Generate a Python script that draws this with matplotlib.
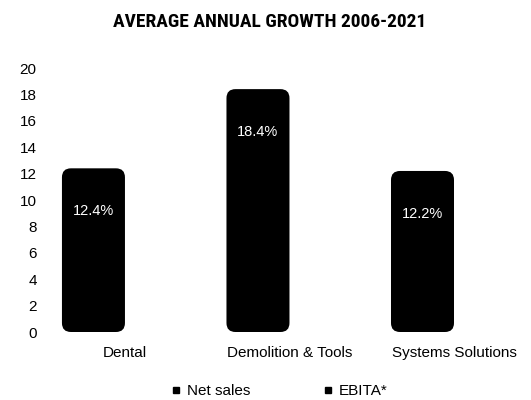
import matplotlib
matplotlib.use('Agg')
import matplotlib.pyplot as plt
from matplotlib.patches import FancyBboxPatch
from matplotlib.lines import Line2D

categories = ['Dental', 'Demolition & Tools', 'Systems Solutions']
net_sales = [12.4, 18.4, 12.2]
value_labels = ['12.4%', '18.4%', '12.2%']
series_names = ['Net sales', 'EBITA*']
y_ticks = [0, 2, 4, 6, 8, 10, 12, 14, 16, 18, 20]

plt.rcParams['font.family'] = ['Liberation Sans', 'DejaVu Sans']

fig = plt.figure(figsize=(5.31, 4.0), dpi=100)
ax = fig.add_axes([45 / 531, 0.17, 1 - 45 / 531, 0.66])

w = 0.383
x = list(range(len(categories)))
bars = ax.bar([i - w / 2 for i in x], net_sales, width=w, color='black')

ax.set_xlim(-0.486, 2.468)
ax.set_ylim(0, 20)
ax.set_yticks(y_ticks)
ax.set_xticks(x)
ax.set_xticklabels(categories)
ax.tick_params(length=0, labelsize=11, colors='black')
ax.tick_params(axis='y', pad=6)
ax.tick_params(axis='x', pad=10)
for s in ax.spines.values():
    s.set_visible(False)

# rounded bars
fig.canvas.draw()
p0 = ax.transData.transform((0, 0))
p1 = ax.transData.transform((1, 1))
aspect = (p1[0] - p0[0]) / (p1[1] - p0[1])
r = 9 / (p1[0] - p0[0])
for b in bars:
    bx, by = b.get_x(), b.get_y()
    bw, bh = b.get_width(), b.get_height()
    b.remove()
    ax.add_patch(FancyBboxPatch((bx, by), bw, bh,
                                boxstyle='round,pad=0,rounding_size=%f' % r,
                                mutation_aspect=aspect,
                                facecolor='black', edgecolor='none'))

for i, v in enumerate(net_sales):
    ax.annotate(value_labels[i], (x[i] - w / 2, v), xytext=(0, -31),
                textcoords='offset points', ha='center', va='center',
                color='white', fontsize=10.5)

fig.text(0.507, 0.945, 'AVERAGE ANNUAL GROWTH 2006-2021', ha='center', va='center',
         fontsize=14, fontweight='heavy', fontstretch='condensed',
         family=['Roboto Condensed', 'Open Sans Condensed', 'DejaVu Sans'])

handles = [Line2D([], [], marker='s', markersize=4, color='black', linestyle='none')
           for _ in series_names]
fig.legend(handles, series_names, loc='center', bbox_to_anchor=(0.527, 0.022),
           ncol=2, frameon=False, fontsize=11, handlelength=0.6,
           handletextpad=0.4, columnspacing=4.8)

fig.savefig('out.png', dpi=100)
